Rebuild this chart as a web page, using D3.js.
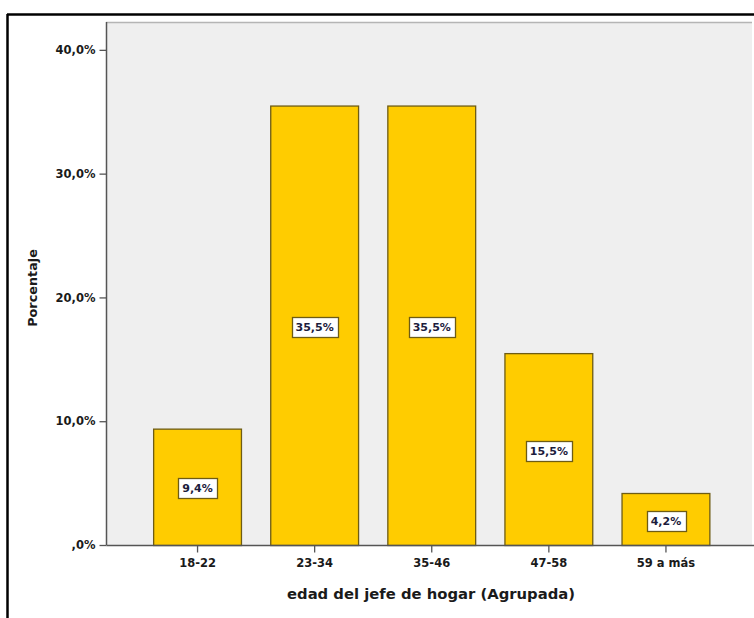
<!DOCTYPE html>
<html>
<head>
<meta charset="utf-8">
<script src="https://cdn.jsdelivr.net/npm/d3@7"></script>
<style>
  html, body { margin: 0; padding: 0; background: #ffffff; }
  svg { display: block; }
</style>
</head>
<body>
<script>
const categories = ["18-22", "23-34", "35-46", "47-58", "59 a más"];
const values = [9.4, 35.5, 35.5, 15.5, 4.2];
const valueLabels = ["9,4%", "35,5%", "35,5%", "15,5%", "4,2%"];
const yTicks = [0, 10, 20, 30, 40];
const yTickLabels = [",0%", "10,0%", "20,0%", "30,0%", "40,0%"];
const xTitle = "edad del jefe de hogar (Agrupada)";
const yTitle = "Porcentaje";

const W = 754, H = 618;
const svg = d3.select("body").append("svg").attr("width", W).attr("height", H);

const plotL = 106, plotT = 22, plotR = 752, plotB = 545;
const font = "'DejaVu Sans', Verdana, sans-serif";

// outer frame
svg.append("line").attr("x1", 7.5).attr("x2", 7.5).attr("y1", 14).attr("y2", H)
  .attr("stroke", "#000").attr("stroke-width", 2.5);
svg.append("line").attr("x1", 7).attr("x2", W).attr("y1", 14.5).attr("y2", 14.5)
  .attr("stroke", "#000").attr("stroke-width", 2.5);

// plot background
svg.append("rect").attr("x", plotL).attr("y", plotT).attr("width", plotR - plotL).attr("height", plotB - plotT)
  .attr("fill", "#efefef");
svg.append("line").attr("x1", plotL).attr("x2", plotR).attr("y1", plotT + 0.5).attr("y2", plotT + 0.5)
  .attr("stroke", "#b5b5b5").attr("stroke-width", 1.5);

const y = d3.scaleLinear().domain([0, 42.25]).range([plotB, plotT]);
const x = d3.scaleBand().domain(categories).range([138.5, 724]).paddingInner(0.25).paddingOuter(0.125);

// bars
const g = svg.append("g");
g.selectAll("rect.bar").data(values).enter().append("rect")
  .attr("class", "bar")
  .attr("x", (d, i) => x(categories[i]) + 0.5)
  .attr("y", d => y(d) + 0.5)
  .attr("width", x.bandwidth())
  .attr("height", d => plotB - y(d))
  .attr("fill", "#ffcc00")
  .attr("stroke", "#6e5c14")
  .attr("stroke-width", 1.3);

// value labels
values.forEach((v, i) => {
  const cx = x(categories[i]) + x.bandwidth() / 2 + 0.5;
  const cy = (y(v) + plotB) / 2 + 1.5;
  const t = svg.append("text").attr("x", cx).attr("y", cy + 4)
    .attr("text-anchor", "middle")
    .attr("font-family", font).attr("font-weight", "bold").attr("font-size", "11px")
    .attr("fill", "#1c1c3c").text(valueLabels[i]);
  const bb = t.node().getBBox();
  svg.insert("rect", () => t.node())
    .attr("x", Math.round(bb.x - 4) + 0.5).attr("y", Math.round(cy - 10) + 0.5)
    .attr("width", Math.round(bb.width + 8)).attr("height", 20)
    .attr("fill", "#ffffff").attr("stroke", "#6e5c14").attr("stroke-width", 1.3);
});

// y axis
const yAxis = d3.axisLeft(y).tickValues(yTicks).tickSize(7).tickPadding(4)
  .tickFormat((d, i) => yTickLabels[i]);
const ya = svg.append("g").attr("transform", `translate(${plotL + 0.5},0)`).call(yAxis);
ya.select(".domain").attr("stroke", "#555").attr("stroke-width", 1.5).attr("d", `M0,${plotT}V${plotB}`);
ya.selectAll(".tick line").attr("stroke", "#555").attr("stroke-width", 1.3);
ya.selectAll(".tick text").attr("font-family", font).attr("font-weight", "bold")
  .attr("font-size", "11.5px").attr("fill", "#1a1a1a");

// x axis
const xAxis = d3.axisBottom(x).tickSize(7).tickPadding(6);
const xa = svg.append("g").attr("transform", `translate(0.5,${plotB + 0.5})`).call(xAxis);
xa.select(".domain").attr("stroke", "#555").attr("stroke-width", 1.5).attr("d", `M${plotL},0H${W}`);
xa.selectAll(".tick line").attr("stroke", "#555").attr("stroke-width", 1.3);
xa.selectAll(".tick text").attr("font-family", font).attr("font-weight", "bold")
  .attr("font-size", "11.5px").attr("fill", "#1a1a1a");

// axis titles
svg.append("text").attr("x", 431).attr("y", 599).attr("text-anchor", "middle")
  .attr("font-family", font).attr("font-weight", "bold").attr("font-size", "14.8px")
  .attr("fill", "#1a1a1a").text(xTitle);
svg.append("text").attr("transform", "translate(37,288) rotate(-90)").attr("text-anchor", "middle")
  .attr("font-family", font).attr("font-weight", "bold").attr("font-size", "12.8px")
  .attr("fill", "#1a1a1a").text(yTitle);
</script>
</body>
</html>
